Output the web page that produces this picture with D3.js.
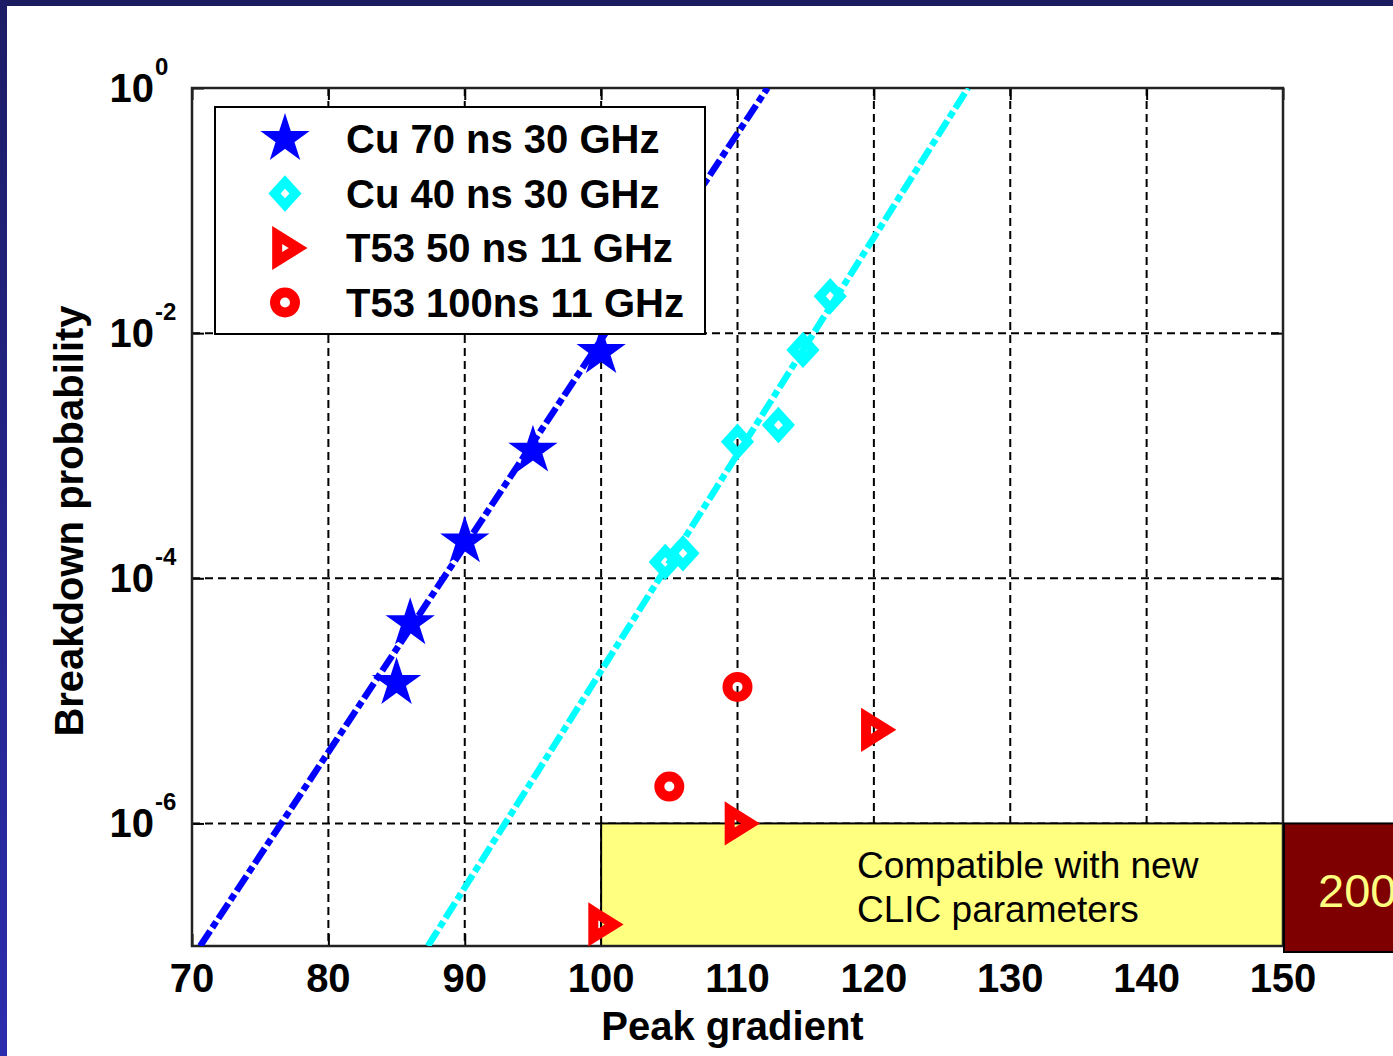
<!DOCTYPE html>
<html>
<head>
<meta charset="utf-8">
<script src="https://cdn.jsdelivr.net/npm/d3@7"></script>
<style>
  body { margin: 0; background: #1b1b60; }
  svg { display: block; }
  text { font-family: "Liberation Sans", Arial, Helvetica, sans-serif; }
</style>
</head>
<body>
<div id="graphContainer"></div>
<script>
// chart data
var xTicks = [70, 80, 90, 100, 110, 120, 130, 140, 150];
var yTickExps = [0, -2, -4, -6];

var cu70 = [ // Cu 70 ns 30 GHz
  {g: 85, p: 1.4e-5}, {g: 86, p: 4.3e-5}, {g: 90, p: 2.0e-4},
  {g: 95, p: 1.1e-3}, {g: 100, p: 7.0e-3}
];
var cu40 = [ // Cu 40 ns 30 GHz
  {g: 104.7, p: 1.36e-4}, {g: 106, p: 1.6e-4}, {g: 110, p: 1.3e-3},
  {g: 113, p: 1.78e-3}, {g: 114.8, p: 7.3e-3}, {g: 116.8, p: 2.0e-2}
];
var t53_50 = [ // T53 50 ns 11 GHz
  {g: 100, p: 1.5e-7}, {g: 110, p: 1.0e-6}, {g: 120, p: 5.8e-6}
];
var t53_100 = [ // T53 100ns 11 GHz
  {g: 105, p: 2.0e-6}, {g: 110, p: 1.3e-5}
];
// fitted lines (end points)
var cu70Fit = [{g: 70.6, p: 1e-7}, {g: 112.2, p: 1}];
var cu40Fit = [{g: 87.3, p: 1e-7}, {g: 126.9, p: 1}];

var legendLabels = ["Cu 70 ns 30 GHz", "Cu 40 ns 30 GHz", "T53 50 ns 11 GHz", "T53 100ns 11 GHz"];
var clicRegion = {g0: 100, g1: 150, p0: 1e-7, p1: 1e-6};
var clicText = ["Compatible with new", "CLIC parameters"];
var sideText = "200";

var W = 1393, H = 1056;
var pLeft = 192, pRight = 1283, pTop = 88, pBottom = 946;

var x = d3.scaleLinear().domain([70, 150]).range([pLeft, pRight]);
var y = d3.scaleLog().domain([1e-7, 1]).range([pBottom, pTop]);

var svg = d3.select("#graphContainer").append("svg")
  .attr("width", W).attr("height", H);
var defs = svg.append("defs");

// slide background
svg.append("rect").attr("x", 0).attr("y", 0).attr("width", W).attr("height", H).attr("fill", "#1b1b60");
var grad = defs.append("linearGradient").attr("id", "lband")
  .attr("x1", 0).attr("y1", 0).attr("x2", 0).attr("y2", 1);
grad.append("stop").attr("offset", "0%").attr("stop-color", "#1c1c66");
grad.append("stop").attr("offset", "100%").attr("stop-color", "#2c2cae");
svg.append("rect").attr("x", 0).attr("y", 0).attr("width", 7).attr("height", H).attr("fill", "url(#lband)");
svg.append("rect").attr("x", 7).attr("y", 6).attr("width", W - 7).attr("height", H - 6).attr("fill", "#fff");

defs.append("clipPath").attr("id", "plotClip")
  .append("rect").attr("x", pLeft).attr("y", pTop).attr("width", pRight - pLeft).attr("height", pBottom - pTop);

// grid
var grid = svg.append("g");
grid.selectAll(".vg").data(xTicks.slice(1, -1)).enter().append("line")
  .attr("x1", d => x(d)).attr("x2", d => x(d)).attr("y1", pTop).attr("y2", pBottom)
  .attr("stroke", "#000").attr("stroke-width", 2).attr("stroke-dasharray", "8,5");
grid.selectAll(".hg").data(yTickExps.slice(1)).enter().append("line")
  .attr("x1", pLeft).attr("x2", pRight).attr("y1", d => y(Math.pow(10, d))).attr("y2", d => y(Math.pow(10, d)))
  .attr("stroke", "#000").attr("stroke-width", 2).attr("stroke-dasharray", "8,5");

// axes with inward ticks
function styleAxis(g) {
  g.select(".domain").remove();
  g.selectAll(".tick line").attr("stroke", "#000").attr("stroke-width", 2);
  g.selectAll(".tick text").remove();
}
var yTickVals = yTickExps.map(e => Math.pow(10, e));
svg.append("g").attr("transform", `translate(0, ${pBottom})`)
  .call(d3.axisBottom(x).tickValues(xTicks).tickSize(-12)).call(styleAxis);
svg.append("g").attr("transform", `translate(0, ${pTop})`)
  .call(d3.axisTop(x).tickValues(xTicks).tickSize(-12)).call(styleAxis);
svg.append("g").attr("transform", `translate(${pLeft}, 0)`)
  .call(d3.axisLeft(y).tickValues(yTickVals).tickSize(-12)).call(styleAxis);
svg.append("g").attr("transform", `translate(${pRight}, 0)`)
  .call(d3.axisRight(y).tickValues(yTickVals).tickSize(-12)).call(styleAxis);

// CLIC region box (below markers)
svg.append("rect")
  .attr("x", x(clicRegion.g0)).attr("y", y(clicRegion.p1))
  .attr("width", x(clicRegion.g1) - x(clicRegion.g0))
  .attr("height", y(clicRegion.p0) - y(clicRegion.p1))
  .attr("fill", "#ffff80").attr("stroke", "#000").attr("stroke-width", 2);
svg.append("g").selectAll("text").data(clicText).enter().append("text")
  .attr("x", 857).attr("y", (d, i) => 878 + i * 44)
  .attr("font-size", 37).attr("fill", "#000").text(d => d);

// box
svg.append("rect").attr("x", pLeft).attr("y", pTop).attr("width", pRight - pLeft).attr("height", pBottom - pTop)
  .attr("fill", "none").attr("stroke", "#222").attr("stroke-width", 2.5);

// fit lines
var line = d3.line().x(d => x(d.g)).y(d => y(d.p));
var lines = svg.append("g").attr("clip-path", "url(#plotClip)");
lines.append("path").datum(cu70Fit).attr("d", line)
  .attr("fill", "none").attr("stroke", "#0000ff").attr("stroke-width", 6.5).attr("stroke-dasharray", "18,4,7,4");
lines.append("path").datum(cu40Fit).attr("d", line)
  .attr("fill", "none").attr("stroke", "#00ffff").attr("stroke-width", 6.5).attr("stroke-dasharray", "18,4,7,4");

// marker shapes
var diamondType = {draw: function(ctx, size) {
  var w = Math.sqrt(size) * 0.5, h = w * 1.1;
  ctx.moveTo(0, -h); ctx.lineTo(w, 0); ctx.lineTo(0, h); ctx.lineTo(-w, 0); ctx.closePath();
}};
var triRightType = {draw: function(ctx, size) {
  var s = Math.sqrt(size) * 0.5;
  ctx.moveTo(-s * 0.6, -s); ctx.lineTo(s, 0); ctx.lineTo(-s * 0.6, s); ctx.closePath();
}};

var series = [
  {data: cu70, type: d3.symbolStar, size: 620, color: "#0000ff", fill: true, sw: 1.5},
  {data: cu40, type: diamondType, size: 440, color: "#00ffff", fill: false, sw: 9},
  {data: t53_50, type: triRightType, size: 680, color: "#ff0000", fill: false, sw: 10},
  {data: t53_100, type: d3.symbolCircle, size: 314, color: "#ff0000", fill: false, sw: 10}
];

function drawMarker(sel, s) {
  sel.attr("d", d3.symbol().type(s.type).size(s.size)())
    .attr("fill", s.fill ? s.color : "none")
    .attr("stroke", s.color).attr("stroke-width", s.sw)
    .attr("stroke-linejoin", "miter");
}

series.forEach(function(s) {
  svg.append("g").selectAll("path").data(s.data).enter().append("path")
    .attr("transform", d => `translate(${x(d.g)}, ${y(d.p)})`)
    .call(drawMarker, s);
});

// legend
var legend = svg.append("g");
legend.append("rect").attr("x", 215).attr("y", 107).attr("width", 490).attr("height", 227)
  .attr("fill", "#fff").attr("stroke", "#000").attr("stroke-width", 2);
series.forEach(function(s, i) {
  var ly = 139 + i * 54.5;
  legend.append("path").attr("transform", `translate(285, ${ly})`).call(drawMarker, s);
  legend.append("text").attr("x", 346).attr("y", ly + 14)
    .attr("font-size", 40).attr("font-weight", "bold").text(legendLabels[i]);
});

// tick labels
svg.append("g").selectAll("text").data(xTicks).enter().append("text")
  .attr("x", d => x(d)).attr("y", 992).attr("text-anchor", "middle")
  .attr("font-size", 40).attr("font-weight", "bold").text(d => d);

var yl = svg.append("g").selectAll("g").data(yTickExps).enter().append("g")
  .attr("transform", d => `translate(${pLeft}, ${y(Math.pow(10, d))})`);
yl.append("text").attr("x", -38).attr("y", 14).attr("text-anchor", "end")
  .attr("font-size", 40).attr("font-weight", "bold").text("10");
yl.append("text").attr("x", -37).attr("y", -13)
  .attr("font-size", 24).attr("font-weight", "bold").text(d => d === 0 ? "0" : "-" + Math.abs(d));

// axis titles
svg.append("text").attr("x", (pLeft + pRight) / 2 - 5).attr("y", 1040).attr("text-anchor", "middle")
  .attr("font-size", 40).attr("font-weight", "bold").text("Peak gradient");
svg.append("text").attr("transform", "translate(83, 521) rotate(-90)").attr("text-anchor", "middle")
  .attr("font-size", 40).attr("font-weight", "bold").text("Breakdown probability");

// side box
svg.append("rect").attr("x", x(150) + 1).attr("y", y(clicRegion.p1)).attr("width", 140)
  .attr("height", 952 - y(clicRegion.p1))
  .attr("fill", "#7f0000").attr("stroke", "#000").attr("stroke-width", 2);
svg.append("text").attr("x", 1318).attr("y", 907).attr("font-size", 47)
  .attr("fill", "#ffff80").text(sideText);
</script>
</body>
</html>
